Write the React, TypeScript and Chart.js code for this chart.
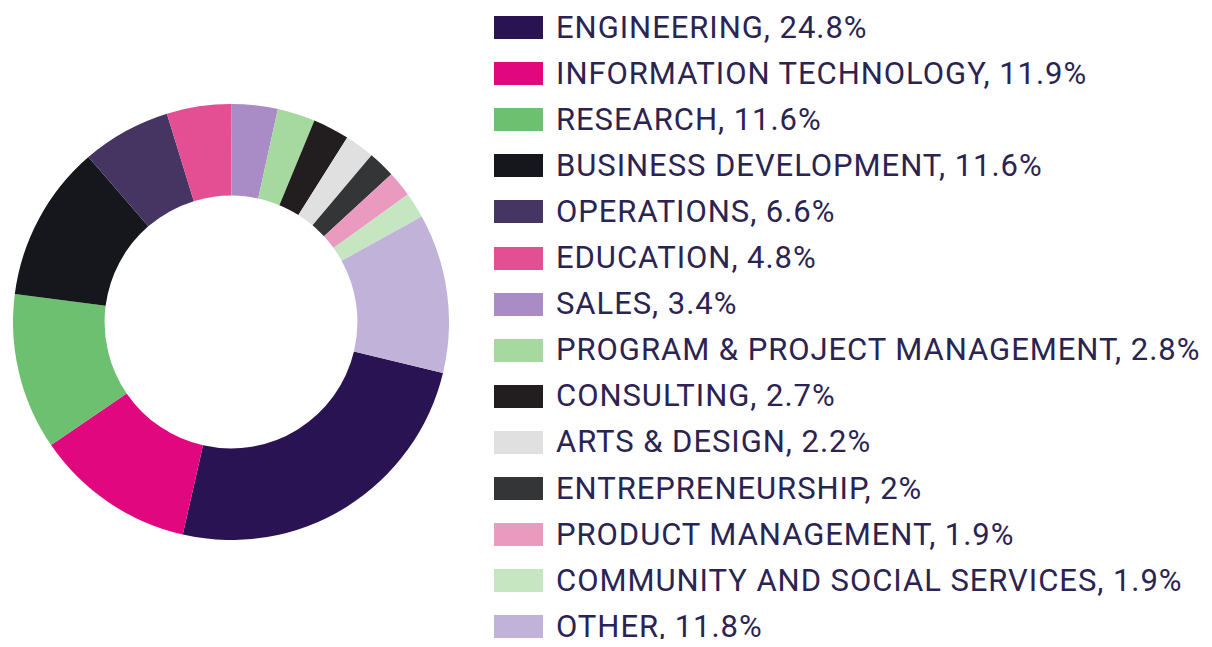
import React, { useEffect, useRef } from "react";
import { Chart, registerables } from "chart.js";

Chart.register(...registerables);

const categories: string[] = [
  "ENGINEERING",
  "INFORMATION TECHNOLOGY",
  "RESEARCH",
  "BUSINESS DEVELOPMENT",
  "OPERATIONS",
  "EDUCATION",
  "SALES",
  "PROGRAM & PROJECT MANAGEMENT",
  "CONSULTING",
  "ARTS & DESIGN",
  "ENTREPRENEURSHIP",
  "PRODUCT MANAGEMENT",
  "COMMUNITY AND SOCIAL SERVICES",
  "OTHER",
];

const shares: number[] = [24.8, 11.9, 11.6, 11.6, 6.6, 4.8, 3.4, 2.8, 2.7, 2.2, 2, 1.9, 1.9, 11.8];

const shareLabels: string[] = [
  "24.8%", "11.9%", "11.6%", "11.6%", "6.6%", "4.8%", "3.4%", "2.8%", "2.7%", "2.2%", "2%", "1.9%", "1.9%", "11.8%",
];

const colors: string[] = [
  "#2a1352",
  "#e0077f",
  "#6cc070",
  "#15171c",
  "#463463",
  "#e44f93",
  "#a98bc6",
  "#a6d99f",
  "#221e1f",
  "#e0e0e1",
  "#333536",
  "#ea9abf",
  "#c6e6c2",
  "#c1b2da",
];

export default function App() {
  const canvasRef = useRef<HTMLCanvasElement | null>(null);

  useEffect(() => {
    if (!canvasRef.current) return;
    const chart = new Chart(canvasRef.current, {
      type: "doughnut",
      data: {
        labels: categories,
        datasets: [
          {
            data: shares,
            backgroundColor: colors,
            borderWidth: 0,
          },
        ],
      },
      options: {
        animation: false,
        responsive: false,
        maintainAspectRatio: false,
        cutout: "58%",
        rotation: 103.5,
        plugins: {
          legend: { display: false },
          tooltip: { enabled: false },
        },
        layout: { padding: 0 },
      },
    });
    return () => chart.destroy();
  }, []);

  const rowTop = 27.5;
  const rowStep = 46.1;

  return (
    <div style={{ position: "relative", width: 1196, height: 631, overflow: "visible" }}>
      <canvas
        ref={canvasRef}
        width={436}
        height={436}
        style={{ position: "absolute", left: 5, top: 96, width: 436, height: 436 }}
      />
      {categories.map((c, i) => (
        <div
          key={c}
          style={{
            position: "absolute",
            left: 486,
            top: rowTop + i * rowStep - 8 - 20,
            height: 40,
            display: "flex",
            alignItems: "center",
            whiteSpace: "nowrap",
          }}
        >
          <div style={{ width: 49, height: 23, background: colors[i], flex: "none" }} />
          <span
            style={{
              marginLeft: 13,
              fontFamily: "Roboto, sans-serif",
              fontSize: 31,
              letterSpacing: "0.95px",
              lineHeight: "40px",
              color: "#2b2452",
            }}
          >
            {c + ", " + shareLabels[i]}
          </span>
        </div>
      ))}
    </div>
  );
}
